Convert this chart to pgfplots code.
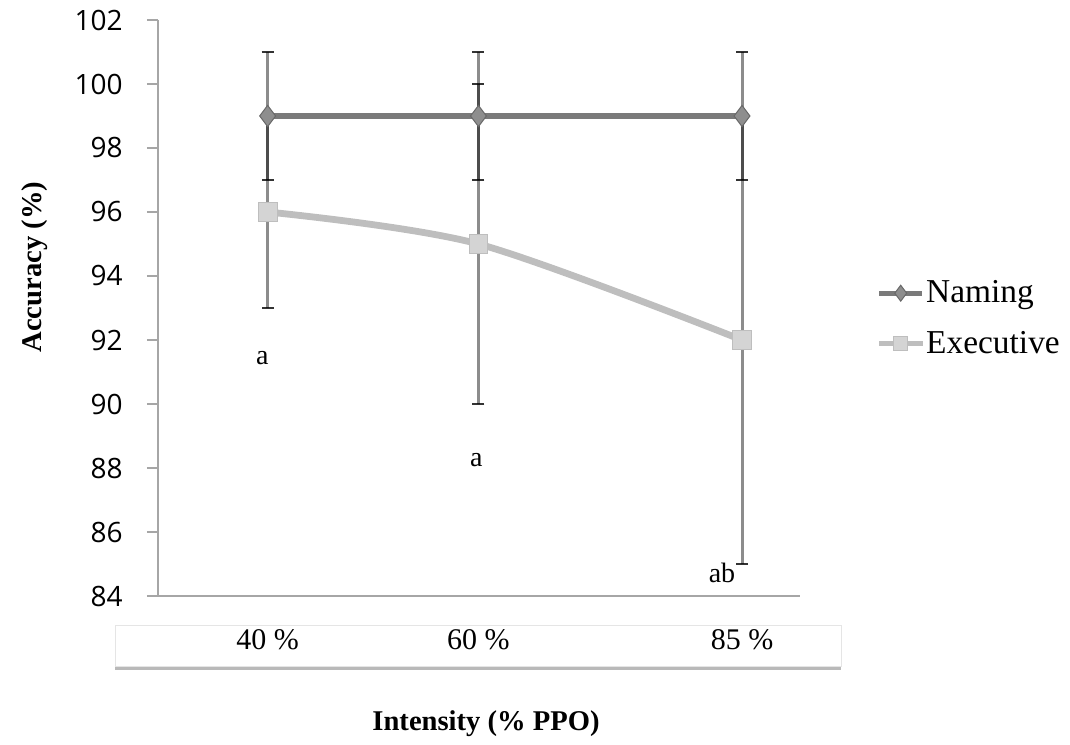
\documentclass[border=0pt]{standalone}
\usepackage{pgfplots}
\pgfplotsset{compat=1.18}
\usepackage{pgfplotstable}
\usepackage{fontspec}
\setmainfont{Liberation Serif}
\newfontfamily\tickfont{Open Sans}
\usetikzlibrary{shadows}

\definecolor{namingline}{HTML}{7A7A7A}
\definecolor{namingmark}{HTML}{8E8E8E}
\definecolor{execline}{HTML}{BEBEBE}
\definecolor{execmark}{HTML}{D4D4D4}
\definecolor{axisgrey}{HTML}{A6A6A6}

% intensity (% PPO), mean accuracy, error
\pgfplotstableread{
x  y  e
40 99 2
60 99 2
85 99 2
}\naming
\pgfplotstableread{
x  y  e
40 96 3
60 95 5
85 92 7
}\executive

\begin{document}
\begin{tikzpicture}
\path[use as bounding box] (-79pt,-74pt) rectangle (456pt,298pt);
% strip holding the category labels
\draw[draw=black!10, fill=white,
      drop shadow={shadow xshift=0pt, shadow yshift=-1.8pt, opacity=0.55}]
  (-21.5pt,-14.5pt) rectangle (341.5pt,-35pt);
\begin{axis}[
  at={(0pt,0pt)}, anchor=south west,
  scale only axis, width=321pt, height=288pt,
  xmin=29.6, xmax=90.5, ymin=84, ymax=102,
  axis x line=bottom, axis y line=left,
  axis line style={-, draw=axisgrey, line width=1pt},
  ytick={84,86,...,102},
  xtick={40,60,85},
  xticklabels={40 \%, 60 \%, 85 \%},
  x tick style={draw=none},
  y tick style={draw=axisgrey, line width=1pt},
  tick align=outside,
  major tick length=5.5pt,
  /pgf/number format/assume math mode=true,
  yticklabel style={font=\tickfont\fontsize{14}{14}\selectfont, anchor=east, inner sep=0pt, xshift=-12pt},
  xticklabel style={font=\fontsize{15}{15}\selectfont, anchor=base, inner sep=0pt, yshift=-21pt},
  xlabel={Intensity (\% PPO)},
  ylabel={Accuracy (\%)},
  label style={font=\bfseries\fontsize{14.3}{14.3}\selectfont},
  xlabel style={at={(rel axis cs:0.511,-0.221)}, anchor=center},
  ylabel style={at={(rel axis cs:-0.1916,0.571)}, anchor=center},
  legend style={at={(1.119,0.482)}, anchor=west, draw=none, fill=none,
    inner sep=0pt, row sep=11pt, font=\fontsize{16.7}{16.7}\selectfont,
    cells={anchor=west}, nodes={inner sep=0.8pt}},
  legend image code/.code={%
    \draw[mark repeat=2, mark phase=2, #1, line width=2.4pt,
          every mark/.append style={scale=0.75}]
      plot coordinates {(0pt,0pt) (10.75pt,0pt) (21.5pt,0pt)};},
]
% error bars sit behind the lines
\addplot[forget plot, draw=none, mark=none,
  error bars/.cd, y dir=both, y explicit,
  error bar style={draw=black, draw opacity=0.45, line width=1.5pt},
  error mark options={draw=black, draw opacity=0.8, rotate=90, mark size=3pt, line width=1pt}]
  table[x=x, y=y, y error=e] {\naming};
\addplot[forget plot, draw=none, mark=none,
  error bars/.cd, y dir=both, y explicit,
  error bar style={draw=black, draw opacity=0.45, line width=1.5pt},
  error mark options={draw=black, draw opacity=0.8, rotate=90, mark size=3pt, line width=1pt}]
  table[x=x, y=y, y error=e] {\executive};

\addplot[namingline, line width=3.4pt, mark=diamond*, mark size=5.3pt,
  mark options={fill=namingmark, draw=namingline!85!black, line width=0.5pt}]
  table[x=x, y=y] {\naming};
\addlegendentry{Naming}
\addplot[execline, line width=3.4pt, smooth, mark=square*, mark size=4.7pt,
  mark options={fill=execmark, draw=execline, line width=0.5pt}]
  table[x=x, y=y] {\executive};
\addlegendentry{Executive}

\node[font=\fontsize{14}{14}\selectfont] at (axis cs:39.5,91.44) {a};
\node[font=\fontsize{14}{14}\selectfont] at (axis cs:59.8,88.25) {a};
\node[font=\fontsize{14}{14}\selectfont] at (axis cs:83.1,84.72) {ab};
\end{axis}
\end{tikzpicture}
\end{document}
